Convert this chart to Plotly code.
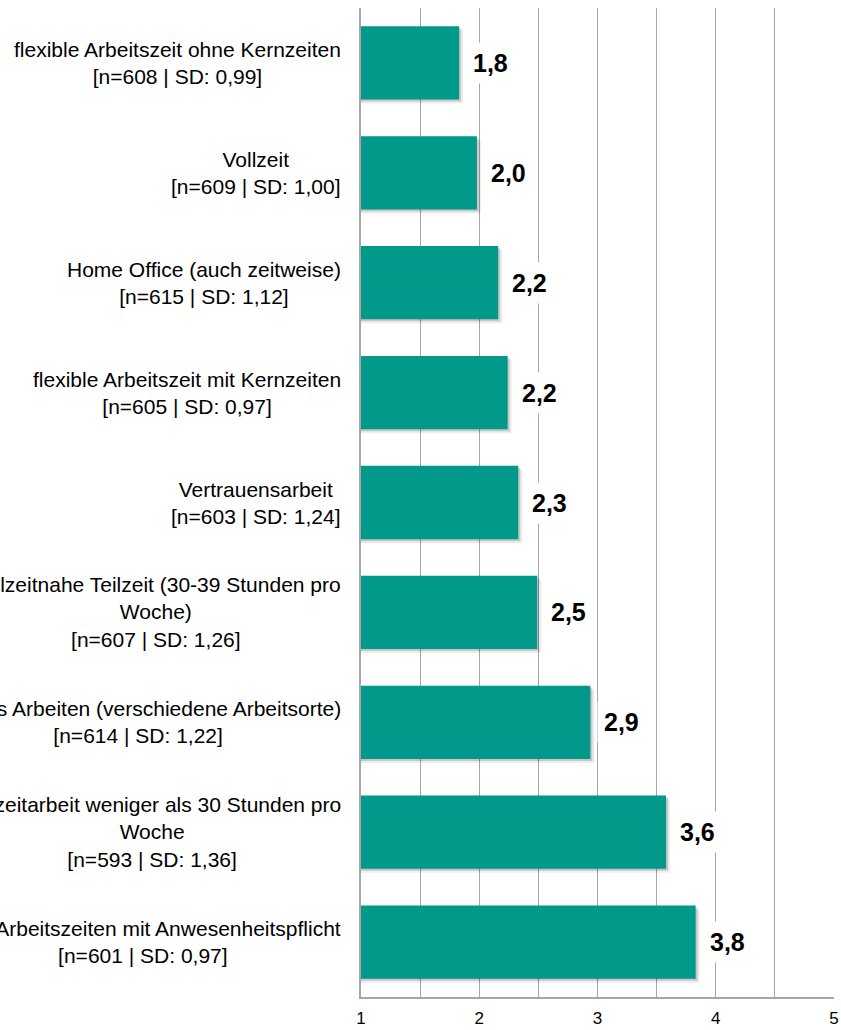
import plotly.graph_objects as go

categories = [
    "flexible Arbeitszeit ohne Kernzeiten<br>[n=608 | SD: 0,99]",
    "Vollzeit<br>[n=609 | SD: 1,00]",
    "Home Office (auch zeitweise)<br>[n=615 | SD: 1,12]",
    "flexible Arbeitszeit mit Kernzeiten<br>[n=605 | SD: 0,97]",
    "Vertrauensarbeit<br>[n=603 | SD: 1,24]",
    "Vollzeitnahe Teilzeit (30-39 Stunden pro<br>Woche)<br>[n=607 | SD: 1,26]",
    "Mobiles Arbeiten (verschiedene Arbeitsorte)<br>[n=614 | SD: 1,22]",
    "Teilzeitarbeit weniger als 30 Stunden pro<br>Woche<br>[n=593 | SD: 1,36]",
    "feste Arbeitszeiten mit Anwesenheitspflicht<br>[n=601 | SD: 0,97]",
]
means = [1.83, 1.98, 2.16, 2.24, 2.33, 2.49, 2.94, 3.58, 3.83]
value_labels = ["1,8", "2,0", "2,2", "2,2", "2,3", "2,5", "2,9", "3,6", "3,8"]
x_ticks = [1, 2, 3, 4, 5]

BAR = "#00998A"
GRID = "#A6A6A6"
FONT = "Liberation Sans, Arial, sans-serif"

W, H = 841, 1030
ML, MR, MT, MB = 361, 7, 8, 33
plot_w = W - ML - MR
plot_h = H - MT - MB
px_x = 4.0 / plot_w              # data units per pixel on x
px_y = len(categories) / plot_h  # category units per pixel on y

bar_w = 0.667
fig = go.Figure()

# soft drop shadow (two layers)
for shift, alpha in [(4, 0.07), (2, 0.16)]:
    fig.add_trace(go.Bar(
        y=categories, x=[v + shift * px_x for v in means], orientation="h",
        width=bar_w, offset=-bar_w / 2 + shift * px_y,
        marker=dict(color=f"rgba(0,0,0,{alpha})", line=dict(width=0)),
        hoverinfo="skip", showlegend=False,
    ))

fig.add_trace(go.Bar(
    y=categories, x=means, orientation="h",
    width=bar_w, offset=-bar_w / 2,
    marker=dict(color=BAR, line=dict(width=0)),
    showlegend=False,
))

annotations = []
for cat, v, lab in zip(categories, means, value_labels):
    annotations.append(dict(
        x=v, y=cat, xref="x", yref="y", text=f"<b>{lab}</b>",
        showarrow=False, xanchor="left", yanchor="middle", xshift=7,
        bgcolor="white", borderpad=6,
        font=dict(family=FONT, size=25, color="black"),
    ))
    annotations.append(dict(
        x=-20 / plot_w, y=cat, xref="paper", yref="y", text=cat,
        showarrow=False, xanchor="right", yanchor="middle", align="center",
        xshift=2,
        font=dict(family=FONT, size=21, color="black"),
    ))

fig.update_layout(
    template="none",
    width=W, height=H,
    margin=dict(l=ML, r=MR, t=MT, b=MB, pad=0, autoexpand=False),
    paper_bgcolor="white", plot_bgcolor="white",
    font=dict(family=FONT, size=17, color="black"),
    barmode="overlay",
    annotations=annotations,
    xaxis=dict(
        range=[1, 5], tickmode="array", tickvals=x_ticks,
        ticktext=[str(t) for t in x_ticks],
        automargin=False,
        showgrid=True, gridcolor=GRID, gridwidth=1,
        minor=dict(dtick=0.5, showgrid=True, gridcolor=GRID, gridwidth=1),
        showline=True, linecolor=GRID, linewidth=1.5,
        zeroline=False, ticks="",
        tickfont=dict(family=FONT, size=17, color="black"),
        ticklabelstandoff=5,
        fixedrange=True,
    ),
    yaxis=dict(
        autorange="reversed", showticklabels=False, showgrid=False,
        automargin=False,
        showline=True, linecolor=GRID, linewidth=1.5, ticks="",
        zeroline=False,
        fixedrange=True,
    ),
)

fig.write_html(
    "out.html",
    config={"displayModeBar": False},
    post_script="document.body.style.margin='0';document.body.style.overflow='hidden';",
)
